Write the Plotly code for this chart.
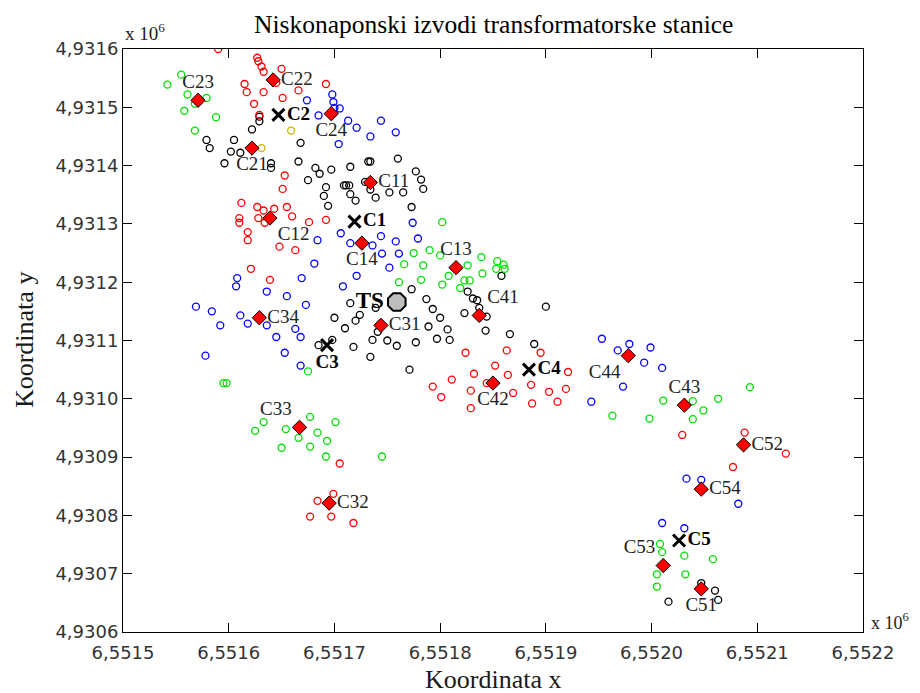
import plotly.graph_objects as go

# ---------------- data (metres, Gauss-Krüger) ----------------
black_x = [6551579, 6551582, 6551605, 6551602, 6551611, 6551596, 6551622, 6551629, 6551629, 6551640,
           6551640, 6551668, 6551666, 6551682, 6551686, 6551697, 6551715, 6551732, 6551734, 6551760,
           6551675, 6551692, 6551690, 6551694, 6551709, 6551711, 6551714, 6551715, 6551720, 6551729,
           6551734, 6551739, 6551752, 6551765, 6551773, 6551777, 6551782, 6551784, 6551858, 6551826,
           6551831, 6551835, 6551837, 6551823, 6551844, 6551843, 6551866, 6551900, 6551889, 6551773,
           6551787, 6551793, 6551800, 6551789, 6551807, 6551809, 6551797, 6551777, 6551759, 6551750,
           6551736, 6551741, 6551718, 6551734, 6551715, 6551739, 6551724, 6551720, 6551700, 6551710,
           6551771, 6551685, 6551698, 6552047, 6552060, 6552063, 6552016]
black_y = [4931444, 4931430, 4931444, 4931424, 4931422, 4931404, 4931462, 4931484, 4931476, 4931404,
           4931396, 4931439, 4931407, 4931396, 4931386, 4931393, 4931398, 4931407, 4931407, 4931412,
           4931375, 4931363, 4931348, 4931331, 4931366, 4931366, 4931366, 4931351, 4931340, 4931372,
           4931359, 4931345, 4931354, 4931354, 4931329, 4931390, 4931376, 4931360, 4931211, 4931184,
           4931172, 4931169, 4931156, 4931147, 4931141, 4931117, 4931111, 4931158, 4931094, 4931188,
           4931171, 4931154, 4931139, 4931124, 4931119, 4931101, 4931103, 4931097, 4931091, 4931100,
           4931101, 4931115, 4931089, 4931072, 4931164, 4931156, 4931144, 4931134, 4931139, 4931121,
           4931050, 4931092, 4931101, 4930684, 4930671, 4930655, 4930652]

red_x = [6551590, 6551627, 6551628, 6551631, 6551633, 6551650, 6551645, 6551615, 6551617, 6551633,
         6551651, 6551666, 6551692, 6551624, 6551629, 6551653, 6551651, 6551612, 6551627, 6551633,
         6551643, 6551655, 6551610, 6551610, 6551628, 6551634, 6551660, 6551676, 6551692, 6551618,
         6551618, 6551648, 6551663, 6551621, 6551639, 6551824, 6551863, 6551895, 6551921, 6551852,
         6551832, 6551864, 6551811, 6551793, 6551801, 6551844, 6551829, 6551869, 6551886, 6551903,
         6551919, 6551829, 6551887, 6551911, 6551705, 6551699, 6551684, 6551677, 6551697, 6551718,
         6552029, 6552088, 6552127, 6552077]
red_y = [4931600, 4931585, 4931579, 4931570, 4931561, 4931566, 4931542, 4931540, 4931526, 4931526,
         4931516, 4931529, 4931540, 4931506, 4931487, 4931383, 4931360, 4931336, 4931329, 4931323,
         4931326, 4931329, 4931310, 4931302, 4931310, 4931302, 4931313, 4931303, 4931307, 4931286,
         4931272, 4931261, 4931255, 4931223, 4931204, 4931079, 4931083, 4931079, 4931046, 4931057,
         4931043, 4931041, 4931033, 4931021, 4931003, 4931027, 4931014, 4931010, 4931024, 4931012,
         4931017, 4930984, 4930992, 4930995, 4930889, 4930837, 4930825, 4930798, 4930798, 4930787,
         4930938, 4930942, 4930906, 4930883]

blue_x = [6551674, 6551685, 6551698, 6551699, 6551700, 6551705, 6551713, 6551721, 6551734, 6551744,
          6551758, 6551704, 6551706, 6551715, 6551736, 6551744, 6551758, 6551745, 6551761, 6551752,
          6551721, 6551708, 6551684, 6551681, 6551669, 6551608, 6551607, 6551636, 6551655, 6551673,
          6551569, 6551584, 6551611, 6551592, 6551618, 6551636, 6551663, 6551668, 6551645, 6551653,
          6551578, 6551668, 6551774, 6551779, 6551953, 6551968, 6551979, 6551999, 6551993, 6552010,
          6551973, 6551943, 6552033, 6552047, 6552082, 6552010, 6552031]
blue_y = [4931512, 4931486, 4931522, 4931509, 4931499, 4931498, 4931477, 4931465, 4931450, 4931477,
          4931457, 4931437, 4931284, 4931267, 4931263, 4931279, 4931270, 4931249, 4931249, 4931225,
          4931211, 4931193, 4931272, 4931232, 4931207, 4931207, 4931193, 4931184, 4931176, 4931161,
          4931158, 4931150, 4931143, 4931126, 4931129, 4931126, 4931120, 4931106, 4931106, 4931079,
          4931074, 4931057, 4931302, 4931275, 4931103, 4931083, 4931094, 4931088, 4931062, 4931053,
          4931021, 4930995, 4930863, 4930861, 4930820, 4930787, 4930778]

green_x = [6551542, 6551555, 6551561, 6551579, 6551568, 6551558, 6551588, 6551568, 6551675, 6551595,
           6551598, 6551766, 6551761, 6551802, 6551790, 6551800, 6551775, 6551784, 6551782, 6551802,
           6551808, 6551826, 6551839, 6551854, 6551860, 6551853, 6551861, 6551840, 6551823, 6551828,
           6551819, 6551963, 6551633, 6551625, 6551654, 6551677, 6551701, 6551684, 6551693, 6551666,
           6551650, 6551677, 6551692, 6551745, 6551998, 6552011, 6552039, 6552049, 6552039, 6552063,
           6552093, 6552008, 6552010, 6552031, 6552058, 6552005, 6552032, 6552005]
green_y = [4931539, 4931556, 4931522, 4931516, 4931506, 4931494, 4931483, 4931460, 4931047, 4931027,
           4931027, 4931231, 4931200, 4931303, 4931255, 4931246, 4931250, 4931229, 4931204, 4931196,
           4931211, 4931229, 4931243, 4931236, 4931230, 4931223, 4931223, 4931215, 4931203, 4931203,
           4931190, 4930971, 4930960, 4930945, 4930948, 4930969, 4930960, 4930942, 4930928, 4930933,
           4930916, 4930918, 4930901, 4930901, 4930966, 4930997, 4930996, 4930980, 4930965, 4931000,
           4931020, 4930751, 4930737, 4930731, 4930725, 4930699, 4930699, 4930678]

yellow_x = [6551659, 6551631]
yellow_y = [4931460, 4931430]

sub_names = ["C22", "C23", "C24", "C21", "C11", "C12", "C14", "C13", "C41", "C31",
             "C34", "C42", "C44", "C43", "C33", "C32", "C52", "C54", "C53", "C51"]
sub_x = [6551642, 6551571, 6551697, 6551622, 6551734, 6551639, 6551726, 6551815, 6551837, 6551744,
         6551629, 6551850, 6551978, 6552031, 6551667, 6551695, 6552087, 6552047, 6552011, 6552047]
sub_y = [4931547, 4931512, 4931489, 4931430, 4931371, 4931310, 4931267, 4931225, 4931143, 4931126,
         4931139, 4931027, 4931074, 4930989, 4930951, 4930821, 4930921, 4930845, 4930714, 4930674]

cent_names = ["C1", "C2", "C3", "C4", "C5"]
cent_x = [6551719, 6551647, 6551693, 6551884, 6552026]
cent_y = [4931304, 4931487, 4931092, 4931050, 4930757]

ts_name = ["TS"]
ts_x = [6551759]
ts_y = [4931166]

# label placement (style)
sub_pos = ["middle right", "top center", "bottom center", "bottom center", "middle right", "bottom right",
           "bottom center", "top center", "top right", "middle right", "middle right", "bottom center",
           "bottom left", "top center", "top left", "middle right", "middle right", "middle right",
           "top left", "bottom center"]
cent_pos = ["middle right", "middle right", "bottom center", "middle right", "middle right"]

S = 1e6
def sc(v):
    return [a / S for a in v]

SERIF = "Liberation Serif, Times New Roman, serif"

fig = go.Figure()

def circles(xs, ys, col):
    fig.add_trace(go.Scatter(
        x=sc(xs), y=sc(ys), mode="markers",
        marker=dict(symbol="circle-open", size=7, color=col, line=dict(width=1.3, color=col)),
        showlegend=False, hoverinfo="skip"))

circles(black_x, black_y, "#000000")
circles(red_x, red_y, "#ff0000")
circles(blue_x, blue_y, "#0000ff")
circles(green_x, green_y, "#00e000")
circles(yellow_x, yellow_y, "#c8b400")

fig.add_trace(go.Scatter(
    x=sc(sub_x), y=sc(sub_y), mode="markers+text", text=sub_names, textposition=sub_pos,
    textfont=dict(family=SERIF, size=19, color="#222222"),
    marker=dict(symbol="diamond", size=11, color="#ff0000", line=dict(width=1, color="#000000")),
    showlegend=False, hoverinfo="skip"))

fig.add_trace(go.Scatter(
    x=sc(cent_x), y=sc(cent_y), mode="markers+text", text=["<b>%s</b>" % n for n in cent_names],
    textposition=cent_pos,
    textfont=dict(family=SERIF, size=19, color="#000000"),
    marker=dict(symbol="x-thin", size=12, color="#000000", line=dict(width=3, color="#000000")),
    showlegend=False, hoverinfo="skip"))

fig.add_trace(go.Scatter(
    x=sc(ts_x), y=sc(ts_y), mode="markers+text", text=["<b>%s</b>" % n for n in ts_name],
    textposition="middle left",
    textfont=dict(family=SERIF, size=23, color="#000000"),
    marker=dict(symbol="octagon", size=19, color="#bdbdbd", line=dict(width=2, color="#000000")),
    showlegend=False, hoverinfo="skip"))

axis_common = dict(
    showgrid=False, zeroline=False, showline=True, linecolor="#000000", linewidth=1,
    mirror="allticks", ticks="inside", ticklen=9, tickcolor="#000000", dtick=0.0001,
    tickformat=".4f", tickfont=dict(family="DejaVu Sans", size=18, color="#333333"),
    automargin=False,
)

fig.update_layout(
    width=920, height=693,
    margin=dict(l=123, r=57, t=49, b=61),
    paper_bgcolor="white", plot_bgcolor="white",
    separators=", ",
    xaxis=dict(range=[6.5515, 6.5522], tick0=6.5515, ticklabelstandoff=4, **axis_common),
    yaxis=dict(range=[4.9306, 4.9316], tick0=4.9306, **axis_common),
    annotations=[
        dict(text="Niskonaponski izvodi transformatorske stanice", x=0.5, y=1.042,
             xref="paper", yref="paper", xanchor="center", yanchor="middle", showarrow=False,
             font=dict(family=SERIF, size=25.5, color="#000000")),
        dict(text="Koordinata x", x=0.5, y=-0.082, xref="paper", yref="paper",
             xanchor="center", yanchor="middle", showarrow=False,
             font=dict(family=SERIF, size=26, color="#1a1a1a")),
        dict(text="Koordinata y", x=-0.133, y=0.5, xref="paper", yref="paper", textangle=-90,
             xanchor="center", yanchor="middle", showarrow=False,
             font=dict(family=SERIF, size=26, color="#1a1a1a")),
        dict(text="x 10<sup>6</sup>", x=0.0, y=1.03, xref="paper", yref="paper",
             xanchor="left", yanchor="middle", showarrow=False,
             font=dict(family=SERIF, size=19, color="#222222")),
        dict(text="x 10<sup>6</sup>", x=1.008, y=0.018, xref="paper", yref="paper",
             xanchor="left", yanchor="middle", showarrow=False,
             font=dict(family=SERIF, size=18, color="#222222")),
    ],
)

fig.write_html("out.html", config={"displayModeBar": False},
               post_script="document.body.style.margin='0';document.body.style.overflow='hidden';")
